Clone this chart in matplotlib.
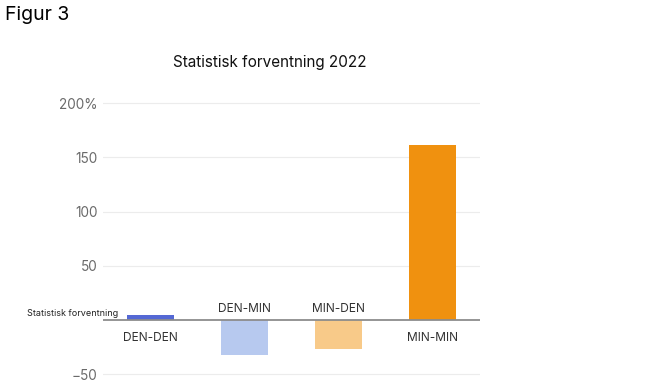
import matplotlib.pyplot as plt
from matplotlib.ticker import FixedLocator

categories = ["DEN-DEN", "DEN-MIN", "MIN-DEN", "MIN-MIN"]
values = [5, -32, -27, 161]
colors = ["#5468d4", "#b7c9ef", "#f8ca89", "#f0910f"]
yticks = [-50, 50, 100, 150, 200]
ytick_labels = ["\u221250", "50", "100", "150", "200%"]

plt.rcParams['font.family'] = ['Inter', 'DejaVu Sans']

fig = plt.figure(figsize=(6.68, 3.89), dpi=100)
ax = fig.add_axes([103/668, 0.0103, (480-103)/668, 0.7625-0.0103])
x = list(range(len(categories)))
ax.bar(x, values, width=0.5, color=colors, zorder=3)
ax.set_xlim(-0.5, 3.5)
ax.set_ylim(-60, 210)
ax.axhline(0, color="#8c8c8c", lw=1.3, zorder=4)
ax.yaxis.set_major_locator(FixedLocator(yticks))
ax.set_yticklabels(ytick_labels)
ax.grid(axis='y', color="#ececec", lw=0.8, zorder=0)
ax.tick_params(axis='y', length=0, pad=4, labelsize=9.8, labelcolor="#6a6a6a")
ax.set_xticks([])
for s in ax.spines.values():
    s.set_visible(False)

for xi, v, c in zip(x, values, categories):
    if v >= 0:
        ax.annotate(c, (xi, 0), xytext=(0, -13), textcoords='offset points',
                    ha='center', va='center', fontsize=8.6, color="#333333")
    else:
        ax.annotate(c, (xi, 0), xytext=(0, 8), textcoords='offset points',
                    ha='center', va='center', fontsize=8.6, color="#333333")

ax.annotate("Statistisk forventning", (-0.5, 0), xytext=(11, 5), textcoords='offset points',
            ha='right', va='center', fontsize=6.5, color="#222222", annotation_clip=False)

fig.text(270/668, 1-62/389, "Statistisk forventning 2022", ha='center', va='center',
         fontsize=11, color="#111111")
fig.text(5/668, 1-15/389, "Figur 3", ha='left', va='center', fontsize=14, color="#000000")

fig.savefig("out.png", dpi=100)
